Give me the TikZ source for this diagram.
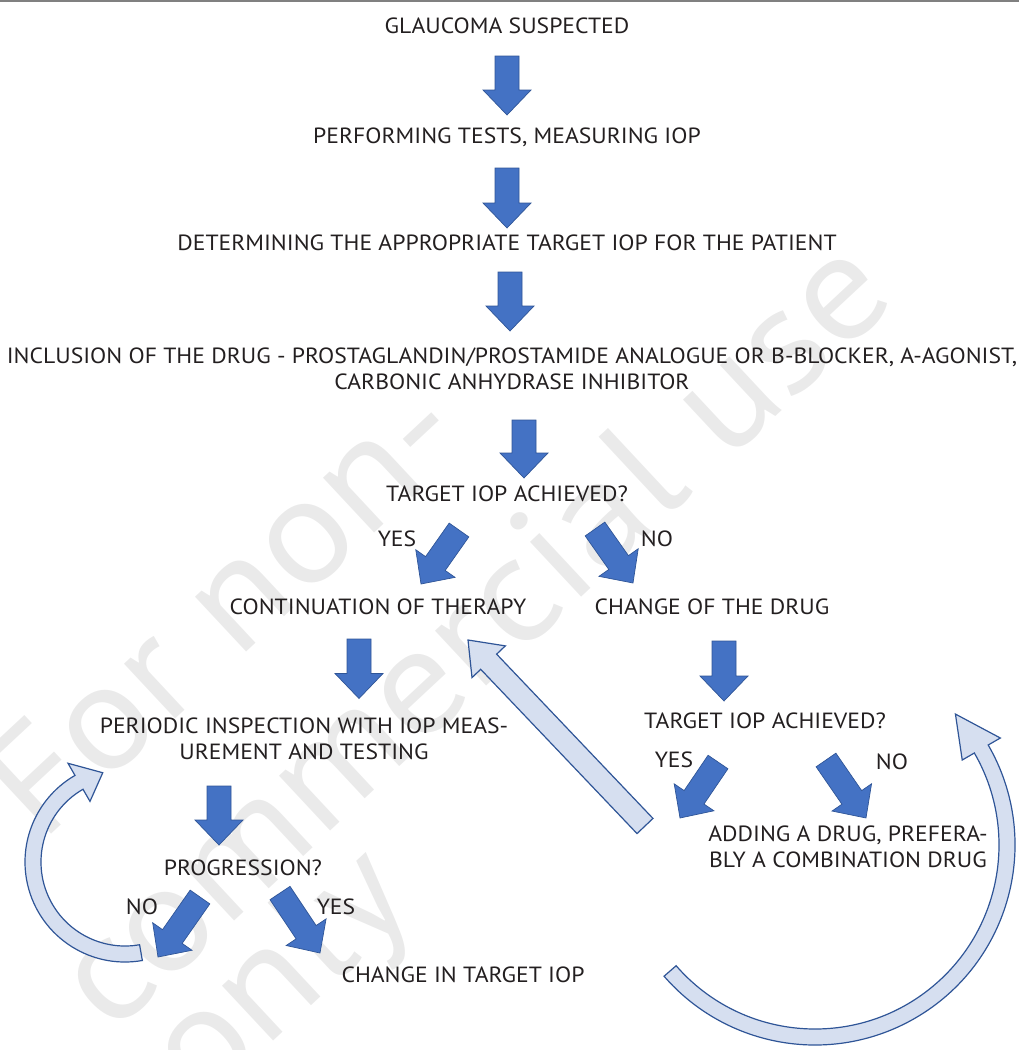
\documentclass[tikz,border=0pt]{standalone}
\usepackage{fontspec}
\setmainfont[FakeStretch=1.075]{PT Sans}
\usetikzlibrary{calc, positioning}

\definecolor{arrowblue}{RGB}{68,114,196}
\definecolor{arrowedge}{RGB}{47,85,151}
\definecolor{paleblue}{RGB}{214,223,240}
\definecolor{markgray}{RGB}{234,234,234}
\definecolor{inkgray}{RGB}{35,31,32}

\tikzset{
  lbl/.style={inner sep=0pt, text=inkgray, align=center, font=\fontsize{22}{26}\selectfont},
  wmark/.style={inner sep=0pt, text=markgray, rotate=43, font=\fontsize{150}{150}\selectfont},
  blockarrow/.style={draw=arrowedge, fill=arrowblue, line width=0.7pt, line join=miter,
    to path={let \p1=(\tikztostart), \p2=(\tikztotarget),
      \n1={atan2(\y2-\y1,\x2-\x1)}, \n2={veclen(\x2-\x1,\y2-\y1)} in
      {[shift={(\p1)}, rotate=\n1]
        (0,-12) -- (\n2-25,-12) -- (\n2-25,-24) -- (\n2,0) -- (\n2-25,24) -- (\n2-25,12) -- (0,12) -- cycle}}},
  backarrow/.style={draw=arrowedge, fill=paleblue, line width=1.2pt, line join=miter,
    to path={let \p1=(\tikztostart), \p2=(\tikztotarget),
      \n1={atan2(\y2-\y1,\x2-\x1)}, \n2={veclen(\x2-\x1,\y2-\y1)} in
      {[shift={(\p1)}, rotate=\n1]
        (0,-11) -- (\n2-30,-11) -- (\n2-30,-23) -- (\n2,0) -- (\n2-30,23) -- (\n2-30,11) -- (0,11) -- cycle}}},
  curvearrow/.style={draw=arrowedge, fill=paleblue, line width=1.2pt, line join=miter}
}

\begin{document}
\begin{tikzpicture}[x=1pt, y=-1pt]
\useasboundingbox (0,0) rectangle (1019,1050);

% watermark
\node (wm1) [wmark] at (222,605) {For non-};
\node (wm2) [wmark] at (470,630) {commercial use};
\node (wm3) [wmark] at (285,980) {only};

\draw[gray, line width=2pt] (0,1) -- (1019,1);

% main column
\node (glaucoma) [lbl] at (507,26) {GLAUCOMA SUSPECTED};
\node (tests) [lbl] at (507,137) {PERFORMING TESTS, MEASURING IOP};
\node (target) [lbl] at (507,243) {DETERMINING THE APPROPRIATE TARGET IOP FOR THE PATIENT};
\node (inclusion) [lbl] at (512,369) {INCLUSION OF THE DRUG - PROSTAGLANDIN/PROSTAMIDE ANALOGUE OR B-BLOCKER, A-AGONIST,\\CARBONIC ANHYDRASE INHIBITOR};
\node (achieved) [lbl] at (507,494) {TARGET IOP ACHIEVED?};
\node (yesA) [lbl] at (397,539) {YES};
\node (noA) [lbl] at (657,539) {NO};
\node (continue) [lbl] at (378,607) {CONTINUATION OF THERAPY};
\node (change) [lbl] at (712,607) {CHANGE OF THE DRUG};

% left branch
\node (periodic) [lbl] at (304,738.5) {PERIODIC INSPECTION WITH IOP MEAS-\\UREMENT AND TESTING};
\node (progress) [lbl] at (243,868) {PROGRESSION?};
\node (noC) [lbl] at (142,907) {NO};
\node (yesC) [lbl] at (336,907) {YES};
\node (changeiop) [lbl] at (463,975) {CHANGE IN TARGET IOP};

% right branch
\node (achievedB) [lbl] at (765,721) {TARGET IOP ACHIEVED?};
\node (yesB) [lbl] at (674,760) {YES};
\node (noB) [lbl] at (892,762) {NO};
\node (adding) [lbl] at (848,847) {ADDING A DRUG, PREFERA-\\BLY A COMBINATION DRUG};

\draw[blockarrow] ($(glaucoma)+(0,30)$) to ($(tests)+(0,-22)$);
\draw[blockarrow] ($(tests)+(0,31)$) to ($(target)+(0,-15)$);
\draw[blockarrow] ($(target)+(3,29)$) to ($(inclusion)+(-2,-38)$);
\draw[blockarrow] ($(inclusion)+(12,51)$) to ($(achieved)+(17,-16)$);
\draw[blockarrow] ($(achieved)+(-48,36)$) to ($(continue)+(43,-23)$);
\draw[blockarrow] ($(achieved)+(88,35)$) to ($(change)+(-79,-24)$);
\draw[blockarrow] ($(continue)+(-19,32)$) to ($(periodic)+(55,-40)$);
\draw[blockarrow] ($(change)+(12,34)$) to ($(achievedB)+(-41,-20)$);
\draw[blockarrow] ($(achievedB)+(-47,41)$) to ($(adding)+(-168,-29)$);
\draw[blockarrow] ($(achievedB)+(61,39)$) to ($(adding)+(18,-29)$);
\draw[blockarrow] ($(periodic)+(-85,47.5)$) to ($(progress)+(-24,-23)$);
\draw[blockarrow] ($(progress)+(-43,29)$) to ($(progress)+(-85,89)$);
\draw[blockarrow] ($(progress)+(37,25)$) to ($(changeiop)+(-143,-22)$);

\draw[backarrow] ($(adding)+(-203,-21)$) to ($(continue)+(90,33)$);

% loop arrows
\coordinate (loopL) at (125,862);
\draw[curvearrow] ($(loopL)+(80:100)$) arc[start angle=80, end angle=240, radius=100]
  -- ($(loopL)+(240:114)$) -- ($(loopL)+(256:92)$) -- ($(loopL)+(240:70)$) -- ($(loopL)+(240:84)$)
  arc[start angle=240, end angle=80, radius=84] -- cycle;
\coordinate (loopR) at (815,845);
\draw[curvearrow] ($(loopR)+(139:184)$) arc[start angle=139, end angle=-30, radius=184]
  -- ($(loopR)+(-30:170)$) -- ($(loopR)+(-43:192)$) -- ($(loopR)+(-30:214)$) -- ($(loopR)+(-30:200)$)
  arc[start angle=-30, end angle=139, radius=200] -- cycle;
\end{tikzpicture}
\end{document}
